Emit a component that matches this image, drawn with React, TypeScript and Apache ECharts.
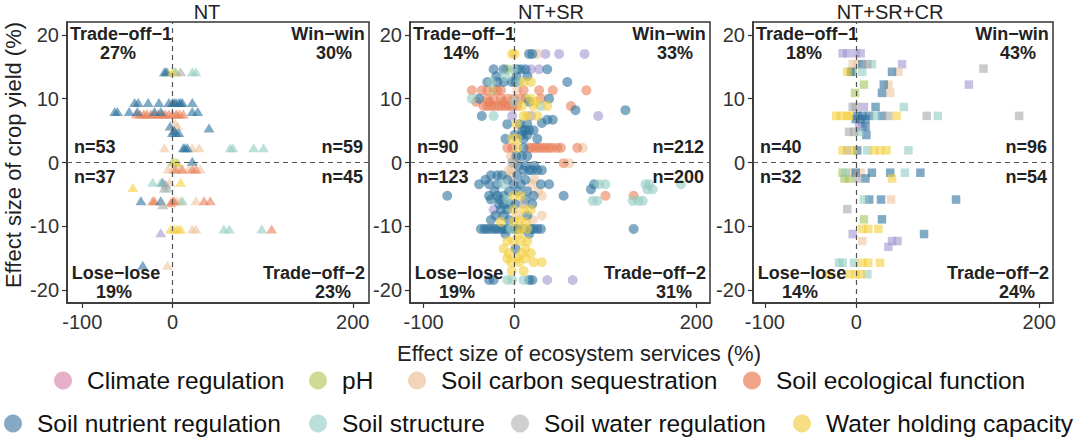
import React, { useEffect, useRef } from "react";
import * as echarts from "echarts";

const categories = [
  "Climate regulation",
  "pH",
  "Soil carbon sequestration",
  "Soil ecological function",
  "Soil nutrient regulation",
  "Soil structure",
  "Soil water regulation",
  "Water holding capacity",
];
const seriesColors = ["#a396d2", "#a7c45a", "#efc49c", "#ea7f58", "#2d719d", "#93cbc1", "#a9a9a9", "#f4cf3c"];
const legendColors = ["#e6afca", "#cddc92", "#f2d4b8", "#f2a48a", "#86a9c4", "#bcdfd9", "#cfcfcf", "#f5df82"];

const panelTitles = ["NT", "NT+SR", "NT+SR+CR"];
const panelSymbols = ["triangle", "circle", "rect"];
const quadrantNames = ["Trade−off−1", "Win−win", "Lose−lose", "Trade−off−2"];
const quadrantPercents = [
  [27, 30, 19, 23],
  [14, 33, 19, 31],
  [18, 43, 14, 24],
];
const quadrantCounts = [
  [53, 59, 37, 45],
  [90, 212, 123, 200],
  [40, 96, 32, 54],
];
const xTicks = [-100, 0, 200];
const yTicks = [-20, -10, 0, 10, 20];

// [effect on ecosystem services, effect on crop yield, category index]
const ntPoints = [
  [-9, 14.2, 4], [-7, 14.2, 4], [-5.5, 14.2, 1], [0, 14.2, 7], [2, 14.2, 5], [3.7, 14.2, 1], [9, 14.2, 6], [22, 14.2, 5], [26, 14.2, 5],
  [-42, 9.4, 4], [-38, 9.4, 4], [-27, 9.4, 4], [-15, 9.4, 4], [-4, 9.4, 4], [0, 9.4, 4], [2, 9.4, 4], [4, 9.4, 4], [7, 9.4, 4], [9, 9.4, 4], [11, 9.4, 4], [22, 9.4, 4],
  [-64, 8, 4], [-61, 8, 4], [-48, 8, 4], [-39, 8, 4], [-20, 8, 4], [-13, 8, 4], [22, 8, 4], [28, 8, 4],
  [-40, 7.6, 3], [-36, 7.6, 3], [-32, 7.6, 3], [-30, 7.6, 2], [-28, 7.6, 3], [-24, 7.6, 3], [-20, 7.6, 3], [-16, 7.6, 3], [-12, 7.6, 3], [-10, 7.6, 2], [-8, 7.6, 3], [-4, 7.6, 3], [0, 7.6, 3], [4, 7.6, 3], [5, 7.6, 2], [8, 7.6, 3], [12, 7.6, 3],
  [-2.6, 5.7, 4], [3, 6.2, 2], [5.5, 5.7, 2], [40.5, 5.4, 4],
  [0, 4.7, 4], [2, 5, 4], [3.7, 4.7, 4], [7, 4.7, 4],
  [-9, 2.3, 2], [12, 2.3, 4], [14, 2.3, 4], [16.6, 2.3, 4], [22, 2.3, 2], [29.5, 2.3, 2], [64, 2.3, 5], [67, 2.3, 5], [90, 2.3, 5], [101, 2.3, 5],
  [0, 0.1, 1], [3, 0.1, 7], [5.5, 0, 1], [22, 0.2, 4],
  [-5, -1, 2], [0, -1, 2], [3, -1, 3], [5, -1, 2], [9, -1, 2], [11, -1, 3], [18, -1, 2], [22, -1, 3], [26, -1, 3], [31, -1, 2],
  [-22, -3.1, 5], [-13, -3.1, 5], [-11, -3.1, 4], [-7.4, -3.4, 6], [-9, -4, 6], [-5.5, -4, 5], [-3, -3.1, 2], [9, -3.1, 7], [-44, -3.9, 7],
  [-35, -6, 4], [-22, -6, 3], [-20, -6, 3], [-13, -6, 4], [-2, -6.3, 3], [0, -6, 3], [2, -6, 3], [5, -6, 2], [9, -6, 2], [11, -6, 5], [26, -6, 2], [35, -6, 3], [42, -6, 3], [-11, -6.6, 6],
  [-2, -10.4, 7], [2, -10.4, 7], [5.5, -10.4, 7], [9, -10.4, 7], [22, -10.4, 2], [26, -10.4, 2], [57, -10.4, 5], [63, -10.4, 5], [99, -10.4, 5], [110, -10.4, 3],
  [-13, -11, 0], [-33, -16.1, 4], [-5.5, -16.1, 2],
];

const ntSrPoints = [
  [-2.6, 17, 7], [0, 17, 7], [16, 17, 4], [19.5, 17, 4], [25, 17, 2], [34, 17, 0], [49, 17, 0], [77, 17, 0],
  [-23, 14.6, 4], [-12, 14.6, 4], [-8, 14.6, 1], [-1, 14.6, 5], [3, 14.6, 4], [7, 14.6, 4], [12, 14.6, 4], [18, 14.6, 0], [27, 14.6, 0], [36, 14.6, 4],
  [-20, 13.5, 4], [-10, 13.5, 5], [2, 13.5, 4], [14, 13.5, 4],
  [-30, 12.6, 4], [-26, 12.6, 5], [-19, 12.6, 4], [-12, 12.6, 4], [-3, 12.6, 4], [1, 12.6, 4], [5, 12.6, 5], [10, 12.6, 7], [18, 12.6, 7], [58, 12.6, 4],
  [-47, 11.3, 3], [-36, 11.3, 3], [-30, 11.3, 3], [-23, 11.3, 1], [-19, 11.3, 3], [-15, 11.3, 3], [3, 11.3, 2], [10, 11.3, 3], [27, 11.3, 3], [42, 11.3, 3], [79, 11.3, 3],
  [-47, 10, 5], [-39, 10, 4], [-30, 10, 3], [-23, 10, 3], [-15, 10, 3], [-8, 10, 3], [-1, 10, 3], [7, 10, 3], [12, 10, 1], [18, 10, 7], [29, 10, 3], [38, 10, 4],
  [-42, 9.5, 3], [-28, 9.5, 3], [-12, 9.5, 3], [0, 9.5, 5], [16, 9.5, 4], [24, 9.5, 7],
  [-34, 8.85, 3], [-30, 8.85, 3], [-26, 8.85, 3], [-22, 8.85, 3], [-18, 8.85, 3], [-14, 8.85, 3], [-10, 8.85, 3], [-6, 8.85, 3], [-2, 8.85, 3], [3, 8.85, 3], [8, 8.85, 7], [21, 8.85, 7], [29, 8.85, 5], [36, 8.85, 7], [62, 8.85, 3],
  [67, 8.2, 4], [122, 8.2, 4],
  [-36, 7.3, 4], [-23, 7.3, 5], [-2.6, 7.3, 0], [10, 7.3, 7], [14, 7.3, 7], [18, 7.3, 0], [25, 7.3, 7], [92, 7.3, 0],
  [36, 6.7, 4], [42, 6.7, 4],
  [-8, 6, 4], [2, 6, 7], [6, 6, 4], [14, 6, 4], [30, 6.2, 4],
  [8.5, 5.05, 4], [12, 5.05, 4], [16, 5.05, 4], [21, 5.05, 4],
  [0, 4.3, 4], [8, 4.3, 4], [14, 4.3, 4],
  [-10, 3.7, 4], [-2.6, 3.7, 7], [3, 3.7, 7], [10, 3.7, 4], [25, 3.7, 4],
  [-8, 2.3, 3], [-2.6, 2.3, 3], [3, 2.3, 7], [10, 2.3, 4], [16, 2.3, 3], [19.5, 2.3, 3], [23, 2.3, 3], [27, 2.3, 3], [30.5, 2.3, 3], [34, 2.3, 3], [38, 2.3, 3], [41.5, 2.3, 3], [47, 2.3, 3], [51, 2.3, 3], [69, 2.3, 3], [75, 2.3, 2],
  [-4, 1, 2], [2, 1, 4], [8, 1, 4], [14, 1, 4],
  [-2.6, 0, 6], [0, 0, 2], [54, -0.1, 3], [60, -0.1, 2],
  [4, -0.5, 4], [12, -0.5, 4], [22, -0.5, 4],
  [-6, -1.2, 2], [-2.6, -1.2, 2], [10, -1.2, 4], [16, -1.2, 4], [19.5, -1.2, 4], [25, -1.2, 4], [30, -1.2, 4],
  [-26, -2, 4], [-19, -2, 4], [-14, -2, 4], [-4, -2, 2], [3, -2, 4],
  [-32, -2.7, 4], [-8, -2.7, 4], [12, -2.7, 4], [22, -2.7, 2],
  [-39, -3.4, 4], [-28, -3.4, 4], [-19, -3.4, 4], [-12, -3.4, 5], [-1, -3.4, 4], [7, -3.4, 4], [19.5, -3.4, 2], [29, -3.4, 4], [38, -3.4, 4], [87.5, -3.4, 4], [93, -3.4, 5], [100, -3.4, 5], [144, -3.4, 5], [148, -3.4, 5], [183, -3.4, 5],
  [84, -4.2, 4], [146, -4.2, 5], [152, -4.2, 5],
  [-22, -4.5, 4], [-6, -4.5, 4], [4, -4.5, 4], [14, -4.5, 4], [26, -4.5, 2],
  [-74, -5.2, 4], [-28, -5.2, 4], [-19, -5.2, 4], [-12, -5.2, 4], [-1, -5.2, 7], [7, -5.2, 7], [21, -5.2, 4], [30, -5.2, 2], [54, -5.2, 4], [100, -5.2, 3], [131, -5.2, 3],
  [-26, -5.8, 4], [-16, -5.8, 4], [-8, -5.8, 5], [12, -5.8, 4],
  [86, -6, 5], [91, -6, 5], [130, -6, 5], [136, -6, 5], [141, -6, 5],
  [-17, -6.5, 4], [-12, -6.5, 4], [-6, -6.5, 4], [1, -6.5, 4], [10, -6.5, 6], [19.5, -6.5, 4],
  [-23, -7.4, 0], [-15, -7.4, 4], [-8, -7.4, 4], [-1, -7.4, 7], [10, -7.4, 7], [18, -7.4, 7],
  [-21, -8.3, 4], [-12, -8.3, 4], [3, -8.3, 2], [14, -8.3, 4], [30, -8.3, 2],
  [-26, -9, 4], [-6, -9, 4], [6, -9, 7], [20, -9, 2],
  [-15, -9.3, 7], [-1, -9.3, 7], [12, -9.3, 7],
  [-37, -10.4, 4], [-33, -10.4, 4], [-30, -10.4, 4], [-26, -10.4, 4], [-22, -10.4, 4], [-19, -10.4, 4], [-15, -10.4, 4], [-12, -10.4, 4], [-8, -10.4, 4], [-4, -10.4, 5], [0, -10.4, 4], [3, -10.4, 4], [7, -10.4, 7], [10, -10.4, 4], [14, -10.4, 7], [18, -10.4, 4], [21, -10.4, 4], [25, -10.4, 4], [29, -10.4, 4], [131, -10.4, 4],
  [-10, -11.2, 4], [5, -11.2, 7], [16, -11.2, 4],
  [-8, -12.3, 7], [-1, -12.3, 7], [7, -12.3, 7], [14, -12.3, 7],
  [-12, -13.5, 7], [1, -13.5, 4], [12, -13.5, 7],
  [-6, -14.2, 7], [8, -14.2, 7], [18, -14.2, 7],
  [-8, -15, 7], [3, -15, 7], [12, -15, 7],
  [-4, -15.6, 7], [5, -15.6, 7], [21, -15.6, 7], [30, -15.6, 7],
  [-3, -17, 7], [10, -17, 7],
  [-28, -18.4, 4], [-23, -18.4, 4], [-8, -18.4, 5], [-2.6, -18.4, 5], [10, -18.4, 5], [16, -18.4, 4], [19.5, -18.4, 4], [36, -18.4, 0], [64, -18.4, 0],
];

const ntSrCrPoints = [
  [-15, 17.1, 0], [-10, 17.1, 0], [-0.7, 17.1, 0], [4.7, 17.1, 0],
  [-4, 15.4, 2], [1, 15.4, 2], [6.5, 15.4, 4], [12, 15.4, 6], [17, 15.4, 5], [50, 15.4, 0], [139, 14.7, 6],
  [-10, 14.2, 7], [-6, 14.2, 4], [-4, 14.2, 1], [6.5, 14.2, 5], [39, 14.2, 4], [46, 14.2, 2],
  [8.3, 12.2, 1], [30, 12.2, 4], [35, 12.2, 2], [123, 12.2, 0],
  [-1.4, 10.9, 1], [28, 10.9, 4], [37, 10.9, 2],
  [-4, 8.7, 6], [-0.7, 8.7, 6], [8.3, 8.7, 0], [21, 8.7, 4], [52, 8.7, 5],
  [-22, 7.3, 7], [-17, 7.3, 7], [-10, 7.3, 7], [-8, 7.3, 7], [1, 7.3, 4], [6.5, 7.3, 4], [14, 7.3, 4], [21, 7.3, 5], [28, 7.3, 4], [35, 7.3, 6], [44, 7.3, 7], [77, 7.3, 6], [89, 7.3, 5], [178, 7.3, 6],
  [-0.7, 6.8, 4], [4.7, 6.8, 4], [10, 6.8, 4],
  [3, 5.6, 0], [6.5, 5.6, 0], [10, 5.6, 4],
  [-8, 4.8, 6], [-2.5, 4.8, 6], [3, 4.8, 5], [11, 4.3, 4],
  [-15, 1.9, 7], [-10, 1.9, 6], [-4, 1.9, 7], [1, 1.9, 4], [12, 1.9, 5], [19, 1.9, 7], [26, 1.9, 7], [33, 1.9, 7], [57, 1.9, 5],
  [-15, -1.6, 1], [-11.5, -1.6, 5], [-6, -1.6, 2], [-0.7, -1.6, 4], [4.7, -1.6, 2], [17, -1.6, 4], [37, -1.6, 4], [53, -1.6, 5], [70, -1.6, 4],
  [-13, -2.5, 1], [-8, -2.5, 1], [1, -2.5, 6], [10, -2.5, 4], [39, -2.5, 7],
  [8.3, -5.8, 5], [14, -5.8, 4], [27, -5.8, 4], [38, -5.8, 2], [109, -5.8, 4],
  [-10, -7.3, 6],
  [8.3, -8.9, 1], [28, -8.9, 4],
  [6.5, -10.4, 7], [13, -10.4, 7], [24, -10.4, 7],
  [-4, -11.2, 0], [74, -11.2, 4],
  [6.5, -12.3, 2], [39, -12.3, 0], [45, -12.3, 0], [35, -13.2, 0],
  [-19, -15.7, 5], [-15, -15.7, 5], [-2.5, -15.7, 5], [6.5, -15.7, 7], [13, -15.7, 7], [26, -15.7, 7],
  [-30, -17.5, 7], [-8, -17.5, 7], [-0.7, -17.5, 7], [4.7, -17.5, 7], [12, -17.5, 5],
];

const panelPoints = [ntPoints, ntSrPoints, ntSrCrPoints];

// layout
const FONT = "'Liberation Sans', Arial, Helvetica, sans-serif";
const gridLeft = [67, 410, 753];
const gridWidth = [302, 300, 300];
const gridTop = 22;
const gridHeight = 281;
const xRanges = [
  [-117, 218],
  [-115, 215],
  [-113, 215],
];
const titleX = [207, 551, 890];
const symbolSizes: any[] = [[11, 9], 10, 8.5];
const legendCenters = [
  [64, 380], [319, 380], [418, 380], [753, 380],
  [14, 423], [319, 423], [521, 423], [803, 423],
];

function buildOption() {
  const grid: any[] = [];
  const xAxis: any[] = [];
  const yAxis: any[] = [];
  const series: any[] = [];
  const graphic: any[] = [];

  for (let p = 0; p < 3; p++) {
    grid.push({
      left: gridLeft[p],
      top: gridTop,
      width: gridWidth[p],
      height: gridHeight,
      show: true,
      borderColor: "#333",
      borderWidth: 1.5,
      backgroundColor: "transparent",
    });
    xAxis.push({
      type: "value",
      gridIndex: p,
      min: xRanges[p][0],
      max: xRanges[p][1],
      axisLine: { show: true, onZero: false, lineStyle: { color: "#333", width: 1.5 } },
      axisTick: { show: true, customValues: xTicks, length: 5, lineStyle: { color: "#333", width: 1.2 } },
      axisLabel: { customValues: xTicks, fontSize: 20, color: "#333", margin: 9, fontFamily: FONT },
      splitLine: { show: false },
    });
    yAxis.push({
      type: "value",
      gridIndex: p,
      min: -22,
      max: 22,
      axisLine: { show: true, onZero: false, lineStyle: { color: "#333", width: 1.5 } },
      axisTick: { show: true, customValues: yTicks, length: 5, lineStyle: { color: "#333", width: 1.2 } },
      axisLabel: { customValues: yTicks, fontSize: 20, color: "#333", margin: 8, fontFamily: FONT },
      splitLine: { show: false },
    });

    for (let c = 0; c < categories.length; c++) {
      const data = panelPoints[p].filter((d) => d[2] === c).map((d) => [d[0], d[1]]);
      const s: any = {
        type: "scatter",
        name: categories[c],
        xAxisIndex: p,
        yAxisIndex: p,
        data,
        symbol: panelSymbols[p],
        symbolSize: symbolSizes[p],
        itemStyle: { color: seriesColors[c], opacity: 0.6 },
        silent: true,
        z: 3,
      };
      if (c === 4) {
        s.markLine = {
          silent: true,
          symbol: ["none", "none"],
          label: { show: false },
          lineStyle: { color: "#555", width: 1.2, type: [5, 4] },
          data: [{ xAxis: 0 }, { yAxis: 0 }],
          z: 4,
        };
      }
      series.push(s);
    }

    const L = gridLeft[p];
    const R = gridLeft[p] + gridWidth[p];
    graphic.push({
      type: "text",
      x: titleX[p],
      y: 12,
      style: { text: panelTitles[p], fontSize: 20, fontFamily: FONT, fill: "#222", textAlign: "center", textVerticalAlign: "middle" },
    });
    const bold = (text: string, x: number, y: number, align: string) => ({
      type: "text",
      x,
      y,
      z: 10,
      style: { text, fontSize: 18, fontWeight: "bold", fontFamily: FONT, fill: "#222", textAlign: align, textVerticalAlign: "middle" },
    });
    const pct = quadrantPercents[p];
    const cnt = quadrantCounts[p];
    graphic.push(bold(quadrantNames[0], L + 54, 34, "center"));
    graphic.push(bold(pct[0] + "%", L + 51, 53, "center"));
    graphic.push(bold(quadrantNames[1], R - 41, 34, "center"));
    graphic.push(bold(pct[1] + "%", R - 35, 53, "center"));
    graphic.push(bold(quadrantNames[2], L + 49, 273, "center"));
    graphic.push(bold(pct[2] + "%", L + 47, 292, "center"));
    graphic.push(bold(quadrantNames[3], R - 55, 273, "center"));
    graphic.push(bold(pct[3] + "%", R - 36, 292, "center"));
    graphic.push(bold("n=" + cnt[0], L + 7, 147, "left"));
    graphic.push(bold("n=" + cnt[1], R - 6, 147, "right"));
    graphic.push(bold("n=" + cnt[2], L + 7, 177, "left"));
    graphic.push(bold("n=" + cnt[3], R - 6, 177, "right"));
  }

  graphic.push({
    type: "text",
    x: 13,
    y: 155,
    rotation: Math.PI / 2,
    style: { text: "Effect size of crop yield (%)", fontSize: 22, fontFamily: FONT, fill: "#222", textAlign: "center", textVerticalAlign: "middle" },
  });
  graphic.push({
    type: "text",
    x: 579,
    y: 353,
    style: { text: "Effect size of ecosystem services (%)", fontSize: 22, fontFamily: FONT, fill: "#222", textAlign: "center", textVerticalAlign: "middle" },
  });

  const legend = categories.map((name, i) => ({
    data: [{ name, itemStyle: { color: legendColors[i], opacity: 1 } }],
    left: legendCenters[i][0] - 10,
    top: legendCenters[i][1] - 12,
    padding: 0,
    itemWidth: 38,
    itemHeight: 18,
    icon: "circle",
    selectedMode: false,
    textStyle: { fontSize: 24.5, color: "#111", fontFamily: FONT },
  }));

  return {
    animation: false,
    backgroundColor: "#fff",
    grid,
    xAxis,
    yAxis,
    series,
    graphic,
    legend,
  };
}

export default function App() {
  const ref = useRef<HTMLDivElement>(null);
  useEffect(() => {
    document.body.style.margin = "0";
    if (!ref.current) return;
    const chart = echarts.init(ref.current, undefined, { renderer: "svg" });
    chart.setOption(buildOption() as any);
    return () => chart.dispose();
  }, []);
  return <div ref={ref} style={{ width: 1080, height: 439 }} />;
}
